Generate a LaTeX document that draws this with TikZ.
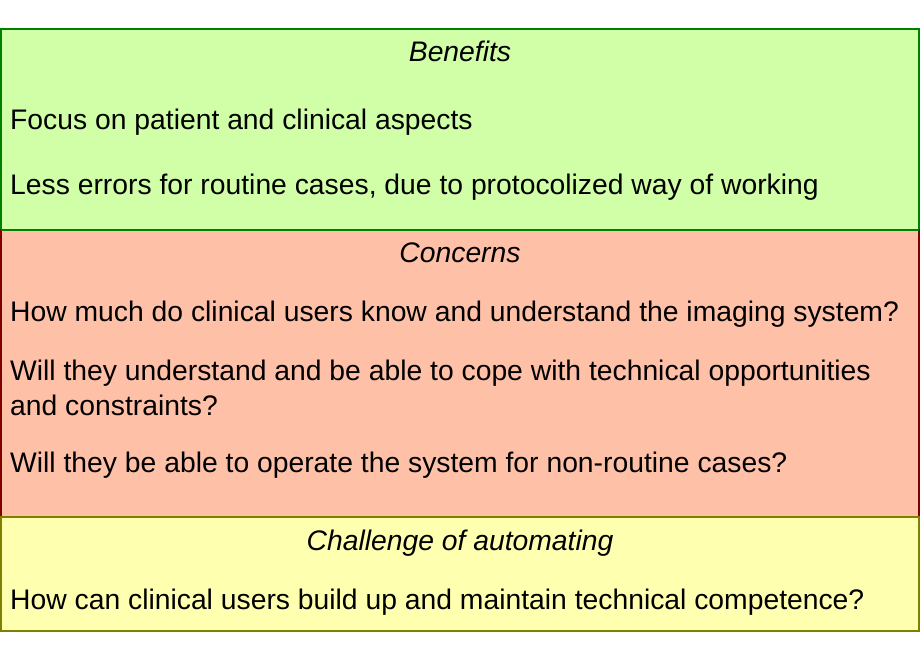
\documentclass[tikz,border=0pt]{standalone}
\usepackage{fontspec}
\setmainfont{Liberation Sans}
\definecolor{gfill}{RGB}{208,255,168}
\definecolor{gline}{RGB}{0,128,0}
\definecolor{rfill}{RGB}{255,192,168}
\definecolor{rline}{RGB}{128,0,0}
\definecolor{yfill}{RGB}{255,255,176}
\definecolor{yline}{RGB}{128,128,0}
\begin{document}
\begin{tikzpicture}[x=1pt,y=-1pt,
  panel/.style={line width=1.2pt},
  title/.style={anchor=base,inner sep=0pt,font=\fontsize{28.3}{34.4}\selectfont\itshape},
  item/.style={anchor=base west,inner sep=0pt,font=\fontsize{28.3}{34.4}\selectfont,align=left}]
\useasboundingbox (0,0) rectangle (920,660);
\draw[panel,draw=gline,fill=gfill] (1,29) rectangle (919,230);
\draw[panel,draw=rline,fill=rfill] (1,230) rectangle (919,517);
\draw[panel,draw=yline,fill=yfill] (1,517) rectangle (919,631);
\draw[gline,line width=1.2pt] (1,230) -- (919,230);
\node[title] (bt) at (460,62) {Benefits};
\node[item] (b1) at (10,130) {Focus on patient and clinical aspects};
\node[item] (b2) at (10,195) {Less errors for routine cases, due to protocolized way of working};
\node[title] (ct) at (460,262) {Concerns};
\node[item] (c1) at (10,321.5) {How much do clinical users know and understand the imaging system?};
\node[item] (c2) at (10,415) {Will they understand and be able to cope with technical opportunities\\and constraints?};
\node[item] (c3) at (10,472) {Will they be able to operate the system for non-routine cases?};
\node[title] (yt) at (460,550.5) {Challenge of automating};
\node[item] (y1) at (10,609.5) {How can clinical users build up and maintain technical competence?};
\end{tikzpicture}
\end{document}
